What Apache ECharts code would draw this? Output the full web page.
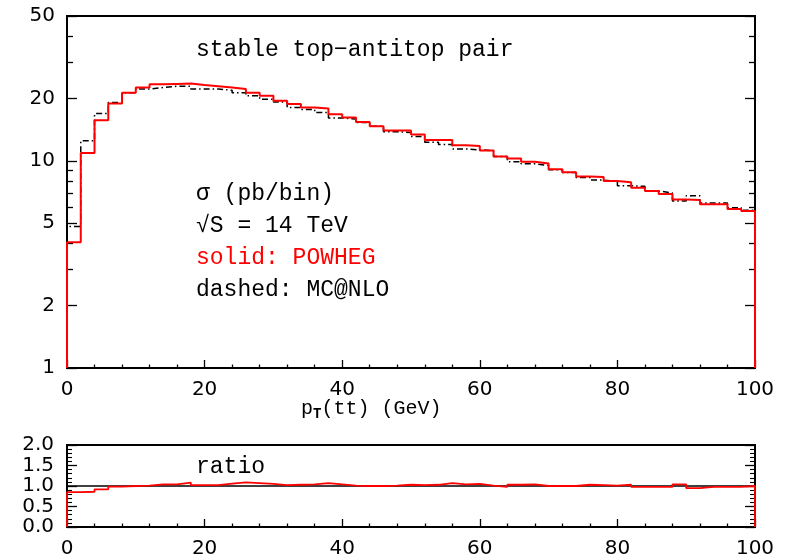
<!DOCTYPE html>
<html><head><meta charset="utf-8">
<script src="https://cdn.jsdelivr.net/npm/echarts@6/dist/echarts.min.js"></script>
<style>html,body{margin:0;padding:0;background:#fff}#c{width:788px;height:559px}</style>
</head><body><div id="c"></div>
<script>
// bin edges (GeV)
const xEdges = [0,2,4,6,8,10,12,14,16,18,20,22,24,26,28,30,32,34,36,38,40,42,44,46,48,50,
  52,54,56,58,60,62,64,66,68,70,72,74,76,78,80,82,84,86,88,90,92,94,96,98,100];
// POWHEG (solid red), sigma pb/bin
const powheg = [4.05,10.9,15.7,18.9,21.3,22.6,23.4,23.5,23.6,23.2,22.9,22.6,22.2,21.3,20.6,19.5,18.8,18.1,17.9,16.8,
  16.2,15.4,14.7,14.0,14.0,13.4,12.6,12.6,11.9,11.8,11.2,10.5,10.25,9.9,9.7,9.1,8.8,8.4,8.35,8.0,
  7.87,7.41,7.15,6.92,6.5,6.47,6.17,6.17,5.86,5.73];
// MC@NLO (dashed black)
const mcnlo = [4.82,12.5,16.9,19.1,21.3,22.2,22.6,22.9,22.9,22.2,22.2,21.9,21.3,20.6,19.8,19.2,18.1,17.7,17.1,16.1,
  15.9,15.3,14.7,13.8,13.7,13.1,12.3,12.0,11.4,11.3,11.2,10.5,9.9,9.67,9.5,9.05,8.79,8.3,8.07,7.95,
  7.58,7.53,7.15,7.0,6.4,6.79,6.26,6.26,5.94,5.77];
// ratio panel (POWHEG / MC@NLO)
const ratio = [0.85,0.86,0.92,0.985,1.0,1.01,1.04,1.04,1.08,1.02,1.02,1.06,1.09,1.07,1.05,1.02,1.03,1.04,1.07,1.04,
  1.01,1.0,1.0,1.01,1.03,1.02,1.03,1.07,1.04,1.05,1.01,0.98,1.03,1.04,1.0,1.0,1.0,1.03,1.02,1.01,
  1.03,0.98,0.98,0.98,1.04,0.95,0.98,0.98,0.98,1.0];
const ratioRef = [1, 1];
// ticks
const yMajor = [1,2,5,10,20,50];
const yMinor = [3,4,6,7,8,9,30,40];
const ratioMajor = [0,0.5,1,1.5,2];
const xRange = [0,100];

function stepData(vals, base){
  const n = vals.length;
  const d = [[xEdges[0], base]];
  for (let i=0;i<n;i++) d.push([xEdges[i], vals[i]]);
  d.push([xEdges[n], vals[n-1]]);
  d.push([xEdges[n], base]);
  return d;
}

const tickFont = {fontFamily:'DejaVu Sans', fontSize:20, color:'#000'};
const mono = '"Liberation Mono", "DejaVu Sans Mono", monospace';

function xAx(grid){
  return {type:'value', gridIndex:grid, min:xRange[0], max:xRange[1], interval:20,
    axisLine:{show:false},
    axisTick:{show:true, inside:true, length:8, lineStyle:{color:'#000', width:1.3}},
    minorTick:{show:true, splitNumber:5, length:3.5, lineStyle:{color:'#000', width:1.3}},
    splitLine:{show:false}, minorSplitLine:{show:false},
    axisLabel:Object.assign({margin:12}, tickFont)};
}
function yLog(pos, ticks, len, labels){
  return {type:'log', gridIndex:0, min:1, max:50, logBase:10, position:pos,
    axisLine:{show:false}, splitLine:{show:false},
    axisTick:{show:true, inside:true, length:len, customValues:ticks, lineStyle:{color:'#000', width:1.3}},
    axisLabel: labels ? Object.assign({show:true, margin:12, customValues:ticks}, tickFont) : {show:false}};
}
function yRatio(pos, labels){
  return {type:'value', gridIndex:1, min:0, max:2, interval:0.5, position:pos,
    axisLine:{show:false}, splitLine:{show:false}, minorSplitLine:{show:false},
    axisTick:{show:true, inside:true, length:10, lineStyle:{color:'#000', width:1.3}},
    minorTick:{show:true, splitNumber:5, length:5, lineStyle:{color:'#000', width:1.1}},
    axisLabel: labels ? Object.assign({show:true, margin:13, customValues:ratioMajor, formatter:v=>v.toFixed(1)}, tickFont) : {show:false}};
}

const chart = echarts.init(document.getElementById('c'), null, {renderer:'canvas'});
chart.setOption({
  animation:false,
  backgroundColor:'#fff',
  grid:[
    {left:67, right:33, top:16, height:352, show:true, borderColor:'#000', borderWidth:2, backgroundColor:'transparent'},
    {left:67, right:33, top:445, height:83, show:true, borderColor:'#000', borderWidth:2, backgroundColor:'transparent'}
  ],
  xAxis:[xAx(0), xAx(1)],
  yAxis:[
    yLog('left', yMajor, 10, true),
    yLog('left', yMinor, 6, false),
    yLog('right', yMajor, 10, false),
    yLog('right', yMinor, 6, false),
    yRatio('left', true),
    yRatio('right', false)
  ],
  series:[
    {type:'line', name:'MC@NLO', xAxisIndex:0, yAxisIndex:0, step:'end', showSymbol:false, symbol:'none',
      data:stepData(mcnlo, 1), lineStyle:{color:'#000', width:1.5, type:[6,3,1.5,3]}, z:3},
    {type:'line', name:'POWHEG', xAxisIndex:0, yAxisIndex:0, step:'end', showSymbol:false, symbol:'none',
      data:stepData(powheg, 1), lineStyle:{color:'#ff0000', width:2}, z:4},
    {type:'line', name:'ref', xAxisIndex:1, yAxisIndex:4, showSymbol:false, symbol:'none',
      data:[[xRange[0], ratioRef[0]],[xRange[1], ratioRef[1]]], lineStyle:{color:'#000', width:1.5}, z:3},
    {type:'line', name:'ratio', xAxisIndex:1, yAxisIndex:4, step:'end', showSymbol:false, symbol:'none',
      data:stepData(ratio, 0), lineStyle:{color:'#ff0000', width:1.8}, z:4}
  ],
  graphic:[
    {type:'text', left:196, top:38, style:{text:'stable top\u2212antitop pair', font:'23px '+mono, fill:'#000'}},
    {type:'text', left:196, top:182, style:{text:'\u03c3 (pb/bin)', font:'23px '+mono, fill:'#000'}},
    {type:'text', left:196, top:214, style:{text:'\u221aS = 14 TeV', font:'23px '+mono, fill:'#000'}},
    {type:'text', left:196, top:246, style:{text:'solid: POWHEG', font:'23px '+mono, fill:'#ff0000'}},
    {type:'text', left:196, top:278, style:{text:'dashed: MC@NLO', font:'23px '+mono, fill:'#000'}},
    {type:'text', left:196, top:455, style:{text:'ratio', font:'23px '+mono, fill:'#000'}},
    {type:'text', left:301, top:399, style:{
      rich:{a:{fontFamily:'Liberation Mono', fontSize:20, fill:'#000'}, s:{fontFamily:'Liberation Mono', fontSize:14, fontWeight:'bold', fill:'#000', verticalAlign:'bottom', padding:[10,0,0,0]}},
      text:'{a|p}{s|T}{a|(tt) (GeV)}'}}
  ]
});
</script></body></html>
